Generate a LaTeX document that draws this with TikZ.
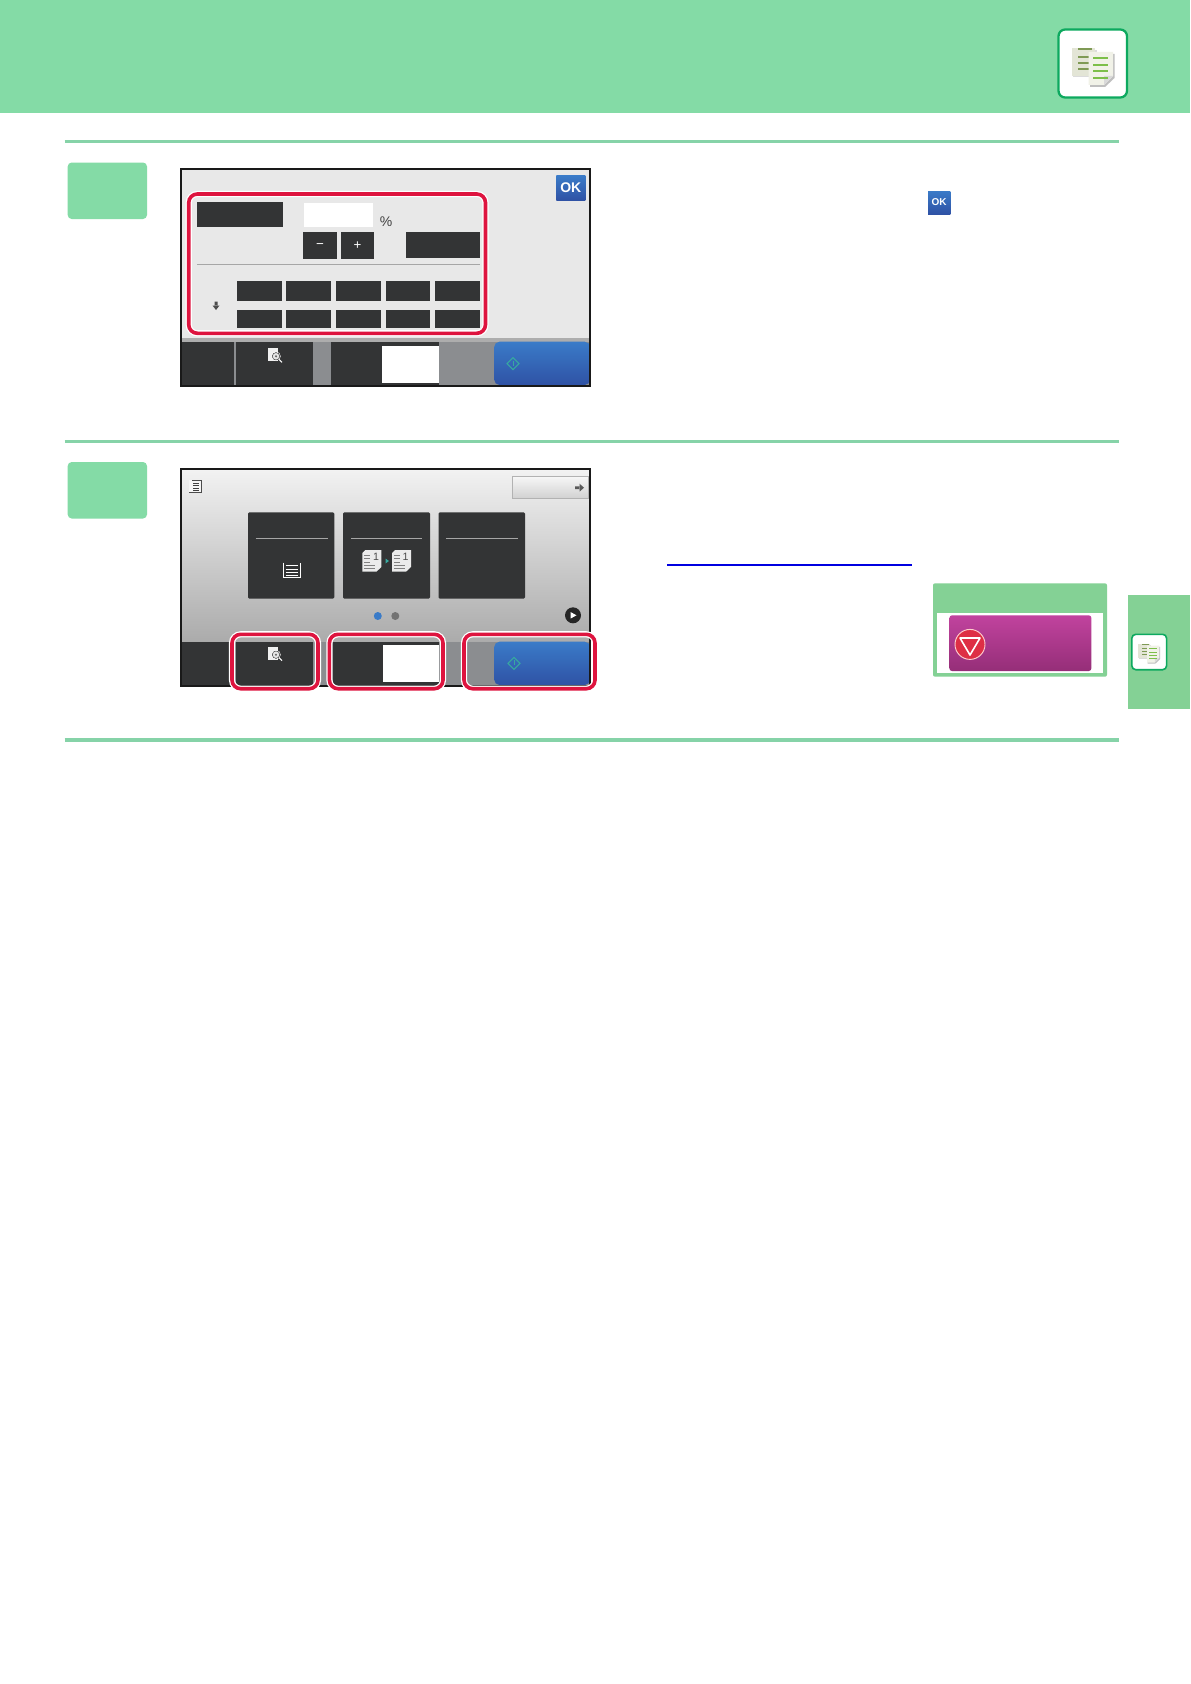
\documentclass[tikz,border=0pt]{standalone}
\usepackage{fontspec}
\setmainfont{Liberation Sans}
\definecolor{headgreen}{HTML}{84DBA6}
\definecolor{rulegreen}{HTML}{86D3A8}
\definecolor{tabgreen}{HTML}{84D195}
\definecolor{iconborder}{HTML}{0DA95F}
\definecolor{panel}{HTML}{333435}
\definecolor{framered}{HTML}{DE143F}
\definecolor{barGray}{HTML}{8B8D90}
\definecolor{stripe}{HTML}{7DBF4A}
\definecolor{stripedark}{HTML}{7F9A55}
\definecolor{backdoc}{HTML}{E3E5D6}
\definecolor{frontdoc}{HTML}{F1F2E8}
\definecolor{bluetop}{HTML}{3A7BC8}
\definecolor{bluebot}{HTML}{2F52A5}
\definecolor{magtop}{HTML}{C1439E}
\definecolor{magbot}{HTML}{952E78}
\definecolor{stopred}{HTML}{DE2F45}
\definecolor{teal}{HTML}{37A9A0}
\definecolor{linkblue}{HTML}{0000E0}
\tikzset{
  x=0.75pt,y=-0.75pt,
  panelbox/.style={fill=panel,rounded corners=1pt},
  stepbox/.style={fill=headgreen,rounded corners=3pt},
  sectionrule/.style={draw=rulegreen,line width=2.4pt},
  redframe/.style={preaction={draw=white,line width=4.6pt},draw=framered,line width=2.7pt,rounded corners=6.5pt},
  screenedge/.style={draw=black!90,line width=1.5pt},
  startbtn/.style={top color=bluetop,bottom color=bluebot},
  glyph/.style={text=white,inner sep=0pt,font=\bfseries},
  iconframe/.style={draw=iconborder,fill=white},
  copydocs/.pic={
    \fill[black!14] (15,21) rectangle (38.5,48.5);
    \fill[backdoc] (13.7,19) rectangle (37,47);
    \foreach \yy in {20.3,27.7,33.7,40}{\fill[stripedark] (20,\yy-1) rectangle (34,\yy+1);}
    \fill[black!25] (32,25) -- (56.5,25) -- (56.5,49) -- (47,58) -- (32,58) -- cycle;
    \fill[frontdoc] (30.7,23) -- (55,23) -- (55,47) -- (46,56) -- (30.7,56) -- cycle;
    \fill[black!15] (55,47) -- (46,56) -- (46,47) -- cycle;
    \foreach \yy in {29.3,35.7,42,48.7}{\fill[stripe] (35,\yy-1) rectangle (50,\yy+1);}
  },
  magnifier/.pic={
    \fill[black!6] (0,0) rectangle (9.5,13);
    \draw[black!75,line width=.5pt,fill=black!10] (8,8) circle (3.8);
    \draw[white,line width=.3pt] (8,8) circle (4.5);
    \fill[black!60] (8,8) circle (1.2);
    \draw[white,line width=.8pt] (11,11) -- (14,14);
  },
  startmark/.pic={
    \draw[teal,line width=.8pt] (-6,0) -- (0,-6) -- (6,0) -- (0,6) -- cycle;
    \draw[teal,line width=.7pt] (0,-3) -- (0,2);
  },
  sheet/.pic={
    \fill[black!8] (0,3) -- (3,0) -- (19,0) -- (19,17) -- (14,21.7) -- (0,21.7) -- cycle;
    \foreach \yy in {5,8.5,12}{\draw[black!50,line width=.5pt] (2,\yy) -- (8,\yy);}
    \foreach \yy in {15,18}{\draw[black!50,line width=.5pt] (2,\yy) -- (13,\yy);}
  },
}
\begin{document}
\begin{tikzpicture}
\useasboundingbox (0,0) rectangle (1190,1684);
\fill[white] (0,0) rectangle (1190,1684);
% header
\fill[headgreen] (0,0) rectangle (1190,113);
\draw[iconframe,line width=1.7pt,rounded corners=5pt] (1058.5,29.5) rectangle (1127,97.5);
\pic at (1058,29) {copydocs};
% section rules
\draw[sectionrule] (64.5,141.5) -- (1119,141.5);
\draw[sectionrule] (64.5,441.5) -- (1119,441.5);
\draw[sectionrule] (64.5,740) -- (1119,740);
% step boxes
\fill[stepbox] (67.7,162.5) rectangle (147,219);
\fill[stepbox] (67.7,462) rectangle (147,518.5);

% ---------- screen 1
\fill[black!9] (181,168.3) rectangle (590.7,386.7);
\fill[black!32] (182,338) rectangle (590,342);
\fill[barGray] (182,342) rectangle (590,386);
\fill[panel] (182,342) rectangle (234,386);
\fill[panel] (235.7,342) rectangle (313.2,386);
\fill[panel] (331,342) rectangle (438.8,386);
\fill[white] (382,346) rectangle (438.8,383.3);
\path[startbtn,rounded corners=4pt] (494.2,341.7) rectangle (590,385);
\pic at (268,348.3) {magnifier};
\pic at (513,363.7) {startmark};
\draw[screenedge] (181.3,168.6) rectangle (590.4,386.4);
\path[startbtn] (556.3,175.7) rectangle (585.4,200);
\node[glyph,font=\bfseries\fontsize{10.5}{12}\selectfont] (okmain) at (570.8,188) {OK};
\fill[panel] (197,201.7) rectangle (283,227.3);
\fill[white] (303.8,202.7) rectangle (373.2,227.3);
\node[text=black!75,inner sep=0pt,font=\fontsize{10.5}{12}\selectfont] (percent) at (386,221.7) {\%};
\fill[panel] (303,231.7) rectangle (336.7,259.3);
\fill[panel] (340.6,231.7) rectangle (374.3,259.3);
\node[glyph,font=\fontsize{10}{12}\selectfont] (minus) at (320,246.5) {−};
\node[glyph,font=\fontsize{10}{12}\selectfont] (plus) at (357.5,245.5) {+};
\fill[panel] (405.5,232.3) rectangle (479.5,258.3);
\draw[black!35,line width=.7pt] (197,264) -- (479.5,264);
\foreach \xa/\xb in {236.8/281.7,286.2/331.1,336/380.6,385.5/430.4,435/479.5}{
  \fill[panel] (\xa,281.3) rectangle (\xb,300.7);
  \fill[panel] (\xa,310.3) rectangle (\xb,328.3);
}
\fill[black!70] (214.5,301.5) rectangle (217.5,306) (212.5,305.5) -- (219.5,305.5) -- (216,310) -- cycle;
\draw[redframe] (188.7,194) rectangle (485.5,333.3);

% ---------- screen 2
\shade[top color=black!5,bottom color=black!33] (181,468.3) rectangle (590.7,642);
\fill[barGray] (182,642) rectangle (590,686);
\fill[panel] (182,642) rectangle (234,686);
\fill[panel] (235.7,642) rectangle (313.2,686);
\fill[panel] (333,642) rectangle (439,686);
\fill[white] (382.7,645) rectangle (439,682.3);
\path[startbtn,rounded corners=4pt] (494.2,641.7) rectangle (590,685);
\pic at (268,646.7) {magnifier};
\pic at (514,663.3) {startmark};
\draw[screenedge] (181.3,468.6) rectangle (590.4,686.4);
% top icon and button
\fill[black!4] (189,480) rectangle (201,492.3);
\draw[black!70,line width=.5pt] (192,480) -- (201,480) -- (201,492.3) -- (189,492.3);
\foreach \yy in {483,485.5,488,490}{\draw[black!75,line width=.6pt] (193,\yy) -- (199,\yy);}
\path[draw=black!30,line width=.4pt,top color=black!3,bottom color=black!18] (512.5,476) rectangle (588,498.3);
\fill[black!65] (575,486.3) rectangle (580,489.1) (579.5,483.7) -- (584,487.7) -- (579.5,491.7) -- cycle;
% cards
\foreach \xa/\xb/\la/\lb in {248/334.3/255.7/327.6,343/430/351/422,438.5/525/445.8/517.7}{
  \fill[panelbox] (\xa,512.3) rectangle (\xb,598.7);
  \draw[black!35,line width=.7pt] (\la,538.7) -- (\lb,538.7);
}
\draw[white,line width=.6pt] (283.4,562.7) -- (283.4,577.7) -- (300,577.7) -- (300,562.7);
\foreach \yy in {565.5,569,572.5,575}{\draw[white,line width=.7pt] (285.5,\yy) -- (298,\yy);}
\pic at (362.4,550) {sheet};
\pic at (392,550) {sheet};
\node[inner sep=0pt,text=black!70,font=\fontsize{8}{9}\selectfont] (docone) at (376,557) {1};
\node[inner sep=0pt,text=black!70,font=\fontsize{8}{9}\selectfont] (doctwo) at (405.5,557) {1};
\fill[teal] (385.5,558.5) -- (389,561) -- (385.5,563.5) -- cycle;
% pager
\fill[bluetop] (377.8,616) circle (4);
\fill[black!55] (395.3,616) circle (4);
\fill[black!85] (573,615.3) circle (8);
\fill[white] (570.5,612) -- (576.5,615.3) -- (570.5,618.6) -- cycle;
% red frames
\draw[redframe] (232,634.3) rectangle (318,688.7);
\draw[redframe] (329.4,634.3) rectangle (443,688.7);
\draw[redframe] (464,634.3) rectangle (595,688.7);

% ---------- right column
\path[startbtn] (928,191) rectangle (950.4,214);
\node[text=white,inner sep=0pt,font=\bfseries\fontsize{7.5}{9}\selectfont] (okinline) at (939.2,202.5) {OK};
\draw[linkblue,line width=1.5pt] (667,564.5) -- (912,564.5);
% stop box
\fill[tabgreen,rounded corners=1.5pt] (933,583.3) rectangle (1107,676.7);
\fill[white] (937,613) rectangle (1103,672.7);
\path[top color=magtop,bottom color=magbot,rounded corners=2pt] (949.4,615.3) rectangle (1091.4,671);
\draw[white!80!red,fill=stopred,line width=.7pt] (970,644.4) circle (15);
\draw[white,line width=1.2pt,line join=round] (960,638) -- (980,638) -- (970,655) -- cycle;
% side tab
\fill[tabgreen] (1128,595) rectangle (1190,708.7);
\draw[iconframe,line width=1.2pt,rounded corners=3pt] (1131.8,634.3) rectangle (1166.6,669.7);
\pic[scale=.51] at (1131.4,634) {copydocs};
\end{tikzpicture}
\end{document}
